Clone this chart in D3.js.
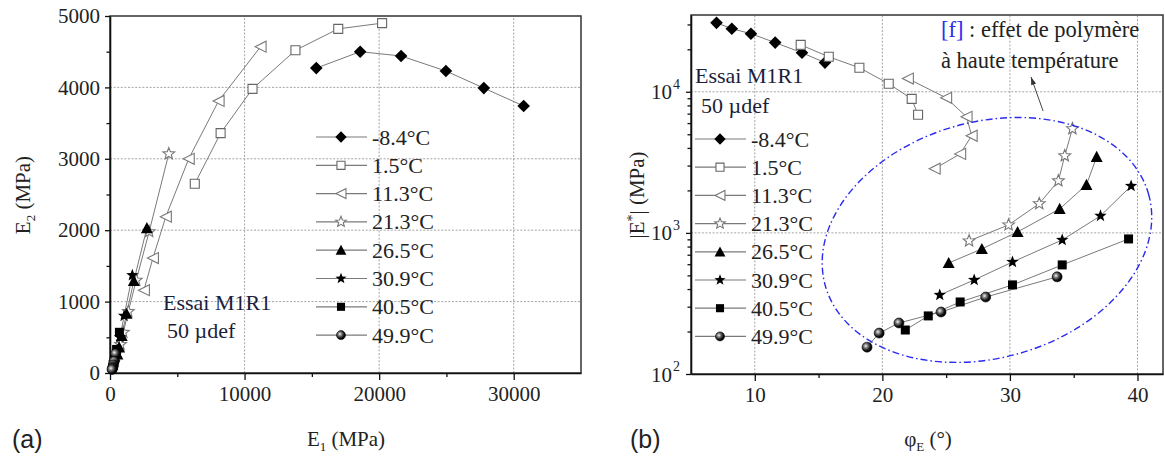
<!DOCTYPE html>
<html>
<head>
<meta charset="utf-8">
<script src="https://cdn.jsdelivr.net/npm/d3@7"></script>
<style>
  body { margin: 0; background: #fff; }
  svg text { font-family: 'Liberation Serif', 'DejaVu Serif', serif; fill: #222; }
  svg text.sans { font-family: 'Liberation Sans', Arial, sans-serif; }
</style>
</head>
<body>
<svg id="fig"></svg>
<script>
// temperatures and the marker used for each
const temps = ["-8.4°C", "1.5°C", "11.3°C", "21.3°C", "26.5°C", "30.9°C", "40.5°C", "49.9°C"];
const markerTypes = ["diamond", "openSquare", "openTriLeft", "openStar", "triUp", "star", "square", "ball"];

// (a) plan Cole-Cole : E1, E2 (MPa)
const e1_m84 = [30740, 27780, 24960, 21630, 18590, 15330];
const e2_m84 = [3740, 3990, 4230, 4440, 4500, 4270];
const e1_15 = [20220, 16960, 13780, 10590, 8220, 6300];
const e2_15 = [4900, 4820, 4520, 3980, 3360, 2650];
const e1_113 = [11190, 8070, 5850, 4150, 3190, 2520];
const e2_113 = [4570, 3810, 3000, 2190, 1610, 1160];
const e1_213 = [4370, 2910, 1950, 1360, 990, 780];
const e2_213 = [3070, 1980, 1300, 860, 570, 400];
const e1_265 = [2740, 1770, 1230, 870, 680, 550];
const e2_265 = [2030, 1290, 830, 520, 360, 260];
const e1_309 = [1660, 1050, 740, 540, 410, 330];
const e2_309 = [1370, 800, 500, 310, 210, 150];
const e1_405 = [700, 490, 370, 290, 240, 190];
const e2_405 = [570, 330, 215, 145, 105, 75];
const e1_499 = [410, 310, 250, 215, 185, 150];
const e2_499 = [270, 165, 115, 85, 65, 50];

// (b) espace de Black : phiE (deg), |E*| (MPa)
const phi_m84 = [7.0, 8.2, 9.7, 11.6, 13.7, 15.5];
const eabs_m84 = [30800, 28000, 25800, 22300, 18900, 16100];
const phi_15 = [13.6, 15.8, 18.2, 20.5, 22.3, 22.8];
const eabs_15 = [21500, 17700, 14800, 11400, 8900, 6870];
const phi_113 = [22.0, 25.0, 26.6, 27.0, 26.1, 24.1];
const eabs_113 = [12400, 9060, 6650, 4880, 3630, 2850];
const phi_213 = [34.9, 34.3, 33.8, 32.3, 29.9, 26.8];
const eabs_213 = [5470, 3520, 2340, 1610, 1140, 877];
const phi_265 = [36.8, 36.0, 33.9, 30.6, 27.8, 25.2];
const eabs_265 = [3460, 2190, 1480, 1016, 770, 612];
const phi_309 = [39.5, 37.1, 34.1, 30.2, 27.2, 24.5];
const eabs_309 = [2150, 1320, 891, 622, 464, 363];
const phi_405 = [39.3, 34.1, 30.2, 26.1, 23.6, 21.8];
const eabs_405 = [906, 593, 428, 324, 258, 205];
const phi_499 = [33.7, 28.1, 24.6, 21.3, 19.75, 18.8];
const eabs_499 = [488, 351, 275, 230, 195, 155];

// ticks
const xTicksA = [0, 10000, 20000, 30000];
const xMinorA = [5000, 15000, 25000];
const yTicksA = [0, 1000, 2000, 3000, 4000, 5000];
const yMinorA = [500, 1500, 2500, 3500, 4500];
const xTicksB = [10, 20, 30, 40];
const xMinorB = [15, 25, 35];
const yTicksB = [100, 1000, 10000];
const yMinorB = [200, 300, 400, 500, 600, 700, 800, 900,
                 2000, 3000, 4000, 5000, 6000, 7000, 8000, 9000, 20000, 30000];

const seriesA = [
  [e1_m84, e2_m84], [e1_15, e2_15], [e1_113, e2_113], [e1_213, e2_213],
  [e1_265, e2_265], [e1_309, e2_309], [e1_405, e2_405], [e1_499, e2_499]
].map((s, i) => ({ t: temps[i], m: markerTypes[i], pts: s[0].map((v, j) => [v, s[1][j]]) }));

const seriesB = [
  [phi_m84, eabs_m84], [phi_15, eabs_15], [phi_113, eabs_113], [phi_213, eabs_213],
  [phi_265, eabs_265], [phi_309, eabs_309], [phi_405, eabs_405], [phi_499, eabs_499]
].map((s, i) => ({ t: temps[i], m: markerTypes[i], pts: s[0].map((v, j) => [v, s[1][j]]) }));

const W = 1165, H = 461;
const SERIF = "'Liberation Serif', 'DejaVu Serif', serif";
const svg = d3.select("#fig").attr("width", W).attr("height", H).attr("font-family", SERIF);

// gradient pour la bille
const grad = svg.append("defs").append("radialGradient")
  .attr("id", "ball").attr("cx", "38%").attr("cy", "38%").attr("r", "62%");
grad.append("stop").attr("offset", "0%").attr("stop-color", "#f4f4f4");
grad.append("stop").attr("offset", "35%").attr("stop-color", "#777");
grad.append("stop").attr("offset", "75%").attr("stop-color", "#111");
grad.append("stop").attr("offset", "100%").attr("stop-color", "#000");

function starPath(ro, ri) {
  let p = [];
  for (let i = 0; i < 10; i++) {
    let a = -Math.PI / 2 + i * Math.PI / 5;
    let r = i % 2 ? ri : ro;
    p.push([r * Math.cos(a), r * Math.sin(a)]);
  }
  return "M" + p.map(d => d[0].toFixed(2) + "," + d[1].toFixed(2)).join("L") + "Z";
}

function drawMarker(g, type, x, y, k) {
  k = k || 1;
  if (type === "ball") {
    g.append("circle").attr("cx", x).attr("cy", y).attr("r", 5 * k)
      .attr("fill", "url(#ball)").attr("stroke", "#000").attr("stroke-width", 0.6);
    return;
  }
  let d, fill = "#000", stroke = "none";
  if (type === "diamond") { let r = 6.3 * k; d = `M0,${-r}L${r},0L0,${r}L${-r},0Z`; }
  if (type === "square") { let r = 4.5 * k; d = `M${-r},${-r}H${r}V${r}H${-r}Z`; }
  if (type === "openSquare") { let r = 4.5 * k; d = `M${-r},${-r}H${r}V${r}H${-r}Z`; fill = "#fff"; stroke = "#666"; }
  if (type === "openTriLeft") { let r = 5.5 * k; d = `M${-r},0L${r},${-r}L${r},${r}Z`; fill = "#fff"; stroke = "#777"; }
  if (type === "triUp") { let r = 6 * k; d = `M0,${-r}L${r},${r * 0.85}L${-r},${r * 0.85}Z`; }
  if (type === "openStar") { d = starPath(6.2 * k, 2.7 * k); fill = "#fff"; stroke = "#777"; }
  if (type === "star") { d = starPath(6.5 * k, 2.7 * k); }
  g.append("path").attr("d", d).attr("transform", `translate(${x},${y})`)
    .attr("fill", fill).attr("stroke", stroke).attr("stroke-width", 1.1);
}

function styleAxis(g) {
  g.attr("font-family", SERIF);
  g.selectAll(".domain").attr("stroke", "#111").attr("stroke-width", 1.6);
  g.selectAll(".tick line").attr("stroke", "#111").attr("stroke-width", 1.3);
  g.selectAll(".tick text").attr("font-size", 21).attr("fill", "#222");
}

function panel(opt) {
  const { x, y, xTicks, xMinor, yTicks, yMinor, series, legendX, legendY } = opt;
  const [x0, x1] = x.range(), [y0, y1] = y.range();
  const g = svg.append("g");

  // grille pointillée
  g.selectAll(".gx").data(xTicks.filter(v => x(v) > x0 + 2)).enter().append("line")
    .attr("x1", d => x(d)).attr("x2", d => x(d)).attr("y1", y0).attr("y2", y1)
    .attr("stroke", "#9a9a9a").attr("stroke-width", 0.9).attr("stroke-dasharray", "2,1.6");
  g.selectAll(".gy").data(yTicks.filter(v => y(v) < y0 - 2 && y(v) > y1 + 2)).enter().append("line")
    .attr("x1", x0).attr("x2", x1).attr("y1", d => y(d)).attr("y2", d => y(d))
    .attr("stroke", "#9a9a9a").attr("stroke-width", 0.9).attr("stroke-dasharray", "2,1.6");

  // cadre
  g.append("rect").attr("x", x0).attr("y", y1).attr("width", x1 - x0).attr("height", y0 - y1)
    .attr("fill", "none").attr("stroke", "#333").attr("stroke-width", 1.5);

  // axes
  const ax = g.append("g").attr("transform", `translate(0,${y0})`)
    .call(d3.axisBottom(x).tickValues(xTicks).tickSize(7).tickSizeOuter(0).tickPadding(6).tickFormat(d3.format("d")));
  styleAxis(ax);
  const axm = g.append("g").attr("transform", `translate(0,${y0})`)
    .call(d3.axisBottom(x).tickValues(xMinor).tickSize(4).tickFormat(() => ""));
  axm.select(".domain").remove();
  styleAxis(axm);

  const ay = g.append("g").attr("transform", `translate(${x0},0)`)
    .call(opt.yAxis(d3.axisLeft(y).tickValues(yTicks).tickSize(5).tickSizeOuter(0).tickPadding(5)));
  styleAxis(ay);
  const aym = g.append("g").attr("transform", `translate(${x0},0)`)
    .call(d3.axisLeft(y).tickValues(yMinor).tickSize(3.5).tickFormat(() => ""));
  aym.select(".domain").remove();
  styleAxis(aym);

  // séries
  const line = d3.line().x(d => x(d[0])).y(d => y(d[1]));
  series.forEach(s => {
    g.append("path").attr("d", line(s.pts)).attr("fill", "none")
      .attr("stroke", "#7a7a7a").attr("stroke-width", 1);
  });
  series.forEach(s => {
    s.pts.forEach(p => drawMarker(g, s.m, x(p[0]), y(p[1]), 1));
  });

  // légende
  series.forEach((s, i) => {
    const ly = legendY[i];
    g.append("line").attr("x1", legendX).attr("x2", legendX + 51).attr("y1", ly).attr("y2", ly)
      .attr("stroke", "#7a7a7a").attr("stroke-width", 1.2);
    drawMarker(g, s.m, legendX + 25, ly, 0.9);
    g.append("text").attr("x", legendX + 56).attr("y", ly + 7.5)
      .attr("font-size", 22).text(s.t);
  });
  return g;
}

const xA = d3.scaleLinear().domain([0, 35000]).range([110, 581]);
const yA = d3.scaleLinear().domain([0, 5000]).range([373, 16]);
const xB = d3.scaleLinear().domain([5, 42]).range([691, 1163]);
const yB = d3.scaleLog().domain([100, 35000]).range([374, 15]);

const legendRows = d3.range(8);

const gA = panel({
  x: xA, y: yA, xTicks: xTicksA, xMinor: xMinorA, yTicks: yTicksA, yMinor: yMinorA,
  series: seriesA, legendX: 316, legendY: legendRows.map(i => 137 + 28.3 * i),
  yAxis: a => a.tickFormat(d3.format("d"))
});

const gB = panel({
  x: xB, y: yB, xTicks: xTicksB, xMinor: xMinorB, yTicks: yTicksB, yMinor: yMinorB,
  series: seriesB, legendX: 695, legendY: legendRows.map(i => 139 + 28.2 * i),
  yAxis: a => a.tickFormat(() => "")
});

// étiquettes 10^n
yTicksB.forEach(v => {
  gB.append("text").attr("x", 691 - 19).attr("y", yB(v) + 7.5)
    .attr("text-anchor", "end").attr("font-size", 21).text("10");
  gB.append("text").attr("x", 691 - 18).attr("y", yB(v) - 3)
    .attr("font-size", 14).text(Math.round(Math.log10(v)));
});

// titres d'axes
svg.append("text").attr("x", 346).attr("y", 446).attr("text-anchor", "middle").attr("font-size", 21)
  .call(t => {
    t.append("tspan").text("E");
    t.append("tspan").attr("font-size", 13).attr("dy", 5).text("1");
    t.append("tspan").attr("dy", -5).text(" (MPa)");
  });
svg.append("text").attr("transform", "translate(30,195) rotate(-90)").attr("text-anchor", "middle").attr("font-size", 21)
  .call(t => {
    t.append("tspan").text("E");
    t.append("tspan").attr("font-size", 13).attr("dy", 5).text("2");
    t.append("tspan").attr("dy", -5).text(" (MPa)");
  });
svg.append("text").attr("x", 928).attr("y", 446).attr("text-anchor", "middle").attr("font-size", 21)
  .call(t => {
    t.append("tspan").text("φ");
    t.append("tspan").attr("font-size", 13).attr("dy", 5).text("E");
    t.append("tspan").attr("dy", -5).text(" (°)");
  });
svg.append("text").attr("transform", "translate(644,195) rotate(-90)").attr("text-anchor", "middle").attr("font-size", 21)
  .call(t => {
    t.append("tspan").text("|E");
    t.append("tspan").attr("font-size", 14).attr("dy", -7).text("*");
    t.append("tspan").attr("dy", 7).text("|  (MPa)");
  });

svg.append("text").attr("class", "sans").attr("x", 12).attr("y", 448).attr("font-size", 25).text("(a)");
svg.append("text").attr("class", "sans").attr("x", 630).attr("y", 448).attr("font-size", 25).text("(b)");

// Essai M1R1
svg.append("text").attr("x", 163).attr("y", 310).attr("font-size", 22).style("fill", "#1d1d3c").text("Essai M1R1");
svg.append("text").attr("x", 167).attr("y", 338).attr("font-size", 22).style("fill", "#1d1d3c").text("50 µdef");
svg.append("text").attr("x", 695).attr("y", 83).attr("font-size", 22).style("fill", "#1d1d3c").text("Essai M1R1");
svg.append("text").attr("x", 701).attr("y", 113).attr("font-size", 22).style("fill", "#1d1d3c").text("50 µdef");

// annotation et ellipse
const ell = { phi: 28.2, e: 891, rx: 168, ry: 118, rot: -15.9 };
svg.append("ellipse")
  .attr("transform", `translate(${xB(ell.phi)},${yB(ell.e)}) rotate(${ell.rot})`)
  .attr("rx", ell.rx).attr("ry", ell.ry)
  .attr("fill", "none").attr("stroke", "#2a2af0").attr("stroke-width", 1.4)
  .attr("stroke-dasharray", "7,3,1.5,3");

const arrowFrom = [32.6, 7310], arrowTo = [31.65, 12740];
const ax1 = xB(arrowFrom[0]), ay1 = yB(arrowFrom[1]), ax2 = xB(arrowTo[0]), ay2 = yB(arrowTo[1]);
svg.append("line").attr("x1", ax1).attr("y1", ay1).attr("x2", ax2).attr("y2", ay2)
  .attr("stroke", "#444").attr("stroke-width", 1);
const ang = Math.atan2(ay2 - ay1, ax2 - ax1) * 180 / Math.PI;
svg.append("path").attr("d", "M0,0L-8,-2.6L-8,2.6Z")
  .attr("transform", `translate(${ax2},${ay2}) rotate(${ang})`).attr("fill", "#333");

svg.append("text").attr("x", 941).attr("y", 37).attr("font-size", 22.5)
  .call(t => {
    t.append("tspan").style("fill", "#2a2af0").text("[f]");
    t.append("tspan").text(" : effet de polymère");
  });
svg.append("text").attr("x", 941).attr("y", 68).attr("font-size", 22.5).text("à haute température");
</script>
</body>
</html>
